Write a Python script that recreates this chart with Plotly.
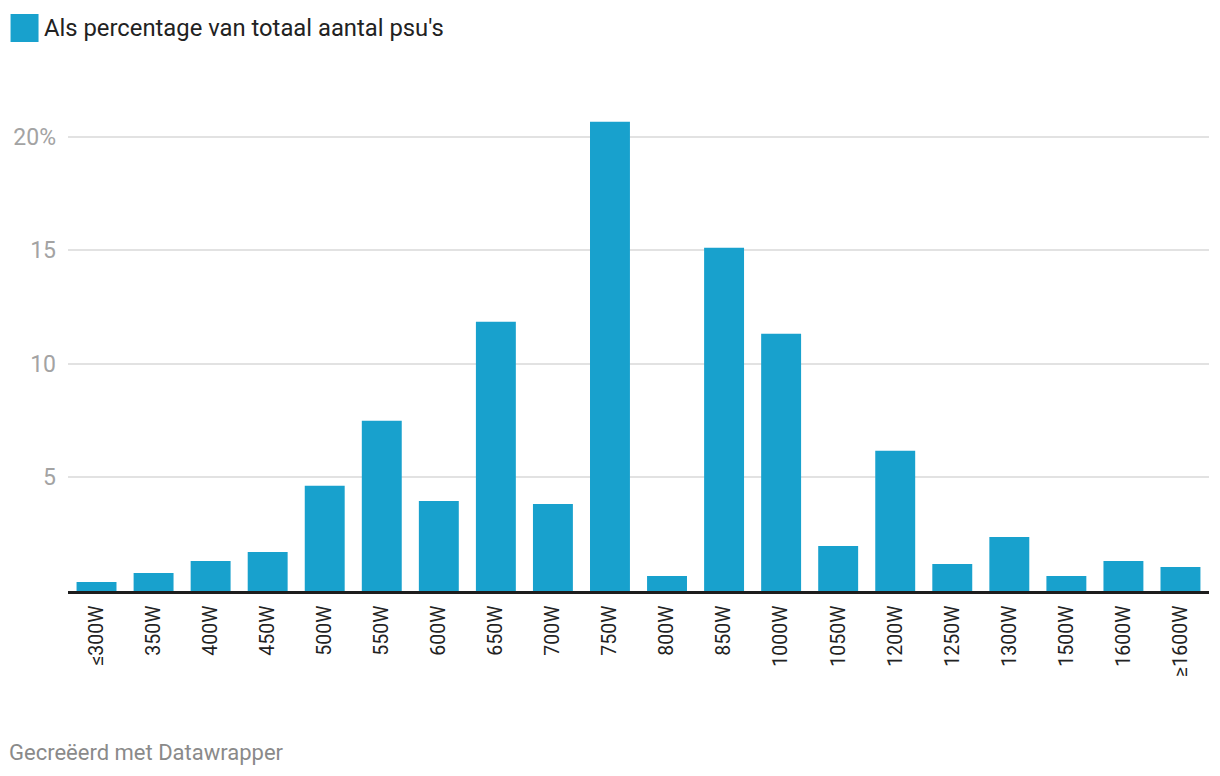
import plotly.graph_objects as go

categories = ["≤300W", "350W", "400W", "450W", "500W", "550W", "600W", "650W", "700W", "750W",
              "800W", "850W", "1000W", "1050W", "1200W", "1250W", "1300W", "1500W", "1600W", "≥1600W"]
values = [0.40, 0.79, 1.32, 1.72, 4.63, 7.49, 3.96, 11.85, 3.83, 20.66,
          0.66, 15.11, 11.32, 1.98, 6.17, 1.19, 2.38, 0.66, 1.32, 1.06]
series_name = "Als percentage van totaal aantal psu's"
y_tickvals = [5, 10, 15, 20]
y_ticktext = ["5", "10", "15", "20%"]

BAR = "#18a1cd"
OFF = 8  # page body margin
W, H = 1212, 768
# target pixel positions in the window
PL, PR, PT, PB = 67.5, 1209.5, 114, 591
ML, MR, MT, MB = PL - OFF, W - (PR - OFF), PT - OFF, H - (PB - OFF)
PW, PH = W - ML - MR, H - MT - MB


def px(xw):
    return (xw - OFF - ML) / PW


def py(yw):
    return 1 - (yw - OFF - MT) / PH


fig = go.Figure()
fig.add_trace(go.Bar(x=categories, y=values, marker=dict(color=BAR, line=dict(width=0)),
                     name=series_name, showlegend=False, hoverinfo="x+y"))

fig.update_layout(
    width=W, height=H,
    margin=dict(l=ML, r=MR, t=MT, b=MB, autoexpand=False),
    paper_bgcolor="white", plot_bgcolor="white",
    bargap=0.3,
    font=dict(family="Roboto", color="#222"),
    xaxis=dict(type="category", tickangle=-90, tickfont=dict(size=19.5, color="#222"),
               showgrid=False, showline=True, linecolor="#1d1d1d", linewidth=2.5,
               ticks="", ticklabelstandoff=4, fixedrange=True),
    yaxis=dict(range=[0, 21], tickvals=y_tickvals, ticktext=y_ticktext,
               tickfont=dict(size=23, color="#a3a3a3"), showgrid=True, gridcolor="#e2e2e2",
               gridwidth=1.5, zeroline=False, showline=False, ticks="",
               ticklabelstandoff=11, fixedrange=True),
    shapes=[dict(type="rect", xref="paper", yref="paper",
                 x0=px(10), x1=px(38), y0=py(42), y1=py(14),
                 fillcolor=BAR, line=dict(width=0))],
    annotations=[
        dict(text=series_name, xref="paper", yref="paper",
             x=px(41), y=py(28),
             xanchor="left", yanchor="middle", showarrow=False,
             font=dict(size=23.8, color="#222", family="Roboto")),
        dict(text="Gecreëerd met Datawrapper", xref="paper", yref="paper",
             x=px(6.5), y=py(752),
             xanchor="left", yanchor="middle", showarrow=False,
             font=dict(size=22, color="#8a8a8a", family="Roboto")),
    ],
)

fig.write_html("out.html", config={"displayModeBar": False})
